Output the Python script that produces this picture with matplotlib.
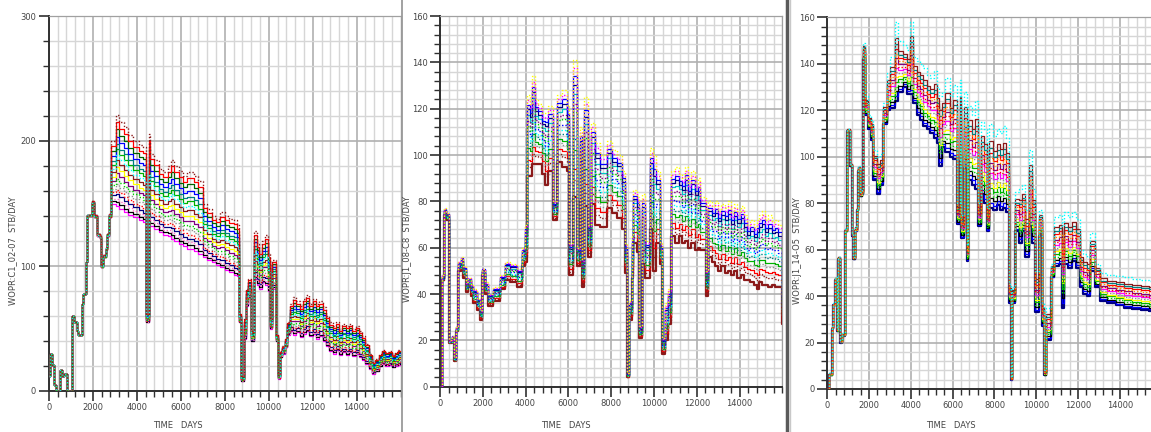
import numpy as np
import matplotlib
matplotlib.use("Agg")
import matplotlib.pyplot as plt
from matplotlib.ticker import MultipleLocator
from matplotlib.lines import Line2D

# Panel 1: WOPR:C1_02-07 - step times, lower and upper envelope of the ensemble
p1_days = [0, 60, 140, 240, 330, 510, 620, 700, 820, 1045, 1150, 1270, 1350, 1500, 1576, 1700,
           1760, 1955, 2076, 2182, 2333, 2379, 2485, 2606, 2667, 2758, 2833, 3045, 3200, 3400,
           3600, 3850, 4100, 4300, 4440, 4540, 4620, 4800, 5000, 5200, 5400, 5550, 5700, 5900,
           6100, 6300, 6600, 6800, 7000, 7200, 7400, 7600, 7800, 8000, 8200, 8400, 8550, 8650,
           8760, 8880, 8970, 9080, 9200, 9310, 9450, 9580, 9700, 9830, 9950, 10050, 10150, 10330,
           10440, 10500, 10600, 10750, 10850, 10950, 11100, 11250, 11400, 11550, 11700, 11850,
           12000, 12150, 12300, 12450, 12600, 12750, 12900, 13050, 13200, 13350, 13500, 13650,
           13800, 13950, 14100, 14250, 14400, 14550, 14700, 14850, 15000, 15150, 15300, 15450,
           15600, 15750, 15900, 16100]
p1_low = [12, 30, 21, 5, 0, 17, 12, 14, 0, 60, 55, 48, 45, 70, 78, 103,
          140, 150, 139, 124, 122, 99, 107, 113, 124, 139, 150, 148, 146, 143,
          141, 139, 137, 135, 55, 133, 132, 130, 127, 125, 124, 122, 120, 118,
          116, 114, 112, 110, 107, 105, 103, 101, 99, 97, 95, 93, 92, 55,
          8, 42, 68, 75, 40, 90, 85, 82, 87, 85, 80, 50, 82, 40,
          10, 27, 30, 35, 45, 48, 45, 47, 43, 46, 48, 44,
          46, 42, 44, 40, 36, 32, 30, 33, 29, 31, 29, 31,
          28, 30, 27, 25, 22, 18, 14, 16, 20, 22, 20, 21,
          19, 20, 21, 21]
p1_high = [12, 30, 21, 5, 0, 17, 12, 14, 0, 60, 55, 48, 45, 70, 78, 103,
           141, 152, 141, 126, 124, 101, 109, 115, 126, 142, 200, 221, 215, 211,
           205, 200, 197, 195, 62, 206, 190, 185, 178, 175, 180, 185, 180, 176,
           172, 175, 172, 168, 150, 146, 140, 138, 143, 140, 138, 137, 133, 62,
           12, 58, 82, 90, 48, 128, 118, 112, 120, 125, 110, 58, 105, 45,
           13, 32, 36, 42, 55, 70, 75, 72, 68, 74, 77, 70,
           74, 70, 72, 67, 60, 55, 52, 55, 50, 54, 52, 54,
           50, 52, 48, 44, 38, 30, 23, 26, 30, 33, 31, 32,
           29, 31, 33, 33]

# Panel 2: WOPR:J1_08-C8
p2_days = [0, 80, 210, 300, 405, 545, 650, 750, 860, 970, 1090, 1215, 1320, 1430, 1560, 1710,
           1870, 1980, 2100, 2260, 2490, 2800, 3040, 3270, 3580, 3820, 3970, 4080, 4200, 4300,
           4450, 4600, 4750, 4910, 5060, 5300, 5450, 5690, 5920, 6040, 6200, 6390, 6540, 6620,
           6730, 6930, 7040, 7240, 7480, 7790, 8020, 8250, 8490, 8650, 8720, 8850, 8960, 9030,
           9190, 9320, 9430, 9580, 9810, 9970, 10090, 10280, 10360, 10520, 10670, 10780, 10980,
           11150, 11300, 11450, 11600, 11750, 11900, 12050, 12150, 12420, 12540, 12700, 12850,
           13000, 13150, 13300, 13450, 13600, 13750, 13900, 14050, 14200, 14350, 14500, 14650,
           14800, 14900, 15050, 15200, 15350, 15500, 15650, 15800, 15960, 16100]
p2_low = [0, 46, 74, 72, 19, 20, 11, 24, 50, 51, 47, 41, 43, 39, 36, 33,
          29, 48, 40, 35, 37, 42, 46, 45, 43, 52, 54, 91, 91, 96,
          96, 96, 92, 87, 93, 72, 97, 95, 93, 48, 82, 52, 80, 43,
          78, 56, 79, 70, 69, 77, 75, 73, 68, 49, 4, 29, 47, 62,
          58, 21, 53, 47, 68, 50, 62, 53, 14, 20, 27, 65, 62,
          65, 62, 63, 60, 62, 59, 60, 59, 39, 56, 54, 52,
          50, 52, 49, 50, 48, 50, 47, 48, 46, 46, 45, 44,
          42, 45, 44, 44, 43, 44, 43, 43, 27, 27]
p2_high = [0, 48, 77, 75, 20, 22, 13, 26, 54, 56, 52, 45, 47, 44, 42, 38,
           33, 51, 45, 40, 43, 48, 54, 53, 51, 60, 70, 126, 122, 134,
           124, 122, 118, 118, 121, 80, 126, 128, 121, 62, 141, 60, 112, 55,
           125, 70, 114, 105, 100, 106, 102, 100, 93, 62, 6, 37, 65, 85,
           82, 26, 83, 63, 103, 100, 93, 62, 21, 36, 42, 93, 95,
           92, 90, 95, 88, 93, 88, 90, 82, 50, 80, 78, 80,
           76, 79, 77, 80, 75, 79, 76, 78, 74, 70, 72, 69,
           72, 74, 76, 72, 74, 71, 72, 70, 40, 40]

# Panel 3: WOPR:J1_14-O5
p3_days = [0, 100, 210, 290, 370, 450, 530, 610, 690, 850, 960, 1080, 1160, 1240, 1320, 1400,
           1480, 1560, 1640, 1700, 1800, 1960, 2070, 2200, 2360, 2520, 2680, 2840, 3000, 3240,
           3400, 3600, 3800, 3960, 4110, 4300, 4450, 4600, 4760, 4910, 5100, 5250, 5360, 5470,
           5650, 5850, 6000, 6190, 6350, 6400, 6520, 6670, 6750, 6900, 7050, 7220, 7350, 7500,
           7620, 7750, 7950, 8100, 8250, 8400, 8550, 8670, 8780, 8860, 8990, 9150, 9310, 9470,
           9630, 9790, 9950, 10110, 10270, 10380, 10480, 10700, 10860, 11070, 11230, 11310,
           11500, 11700, 11900, 12100, 12250, 12420, 12580, 12820, 13030, 13400, 13800, 14200,
           14600, 15000, 15400, 15800, 16100]
p3_low = [0, 6, 26, 36, 47, 25, 56, 20, 23, 68, 111, 96, 66, 56, 68, 77,
          94, 83, 84, 142, 118, 112, 107, 90, 84, 88, 114, 120, 121, 124,
          128, 130, 127, 127, 123, 118, 116, 113, 112, 110, 108, 106, 96, 104,
          102, 100, 99, 71, 98, 65, 95, 55, 90, 88, 86, 70, 84, 80,
          68, 78, 77, 79, 77, 78, 76, 37, 4, 37, 68, 63, 68, 57,
          70, 63, 33, 66, 27, 6, 21, 48, 53, 54, 35, 54,
          52, 55, 52, 44, 41, 40, 51, 44, 38, 37, 36, 35,
          34.5, 34, 33.5, 33, 33]
p3_high = [0, 7, 27, 37, 48, 26, 57, 21, 24, 69, 112, 97, 67, 57, 70, 78,
           96, 85, 86, 149, 126, 118, 116, 103, 100, 101, 123, 136, 143, 158,
           150, 148, 146, 158, 143, 141, 140, 138, 135, 134, 137, 130, 126, 128,
           134, 126, 131, 80, 133, 75, 128, 62, 122, 118, 124, 80, 115, 112,
           78, 114, 109, 112, 110, 113, 108, 45, 5, 44, 85, 86, 88, 77,
           103, 86, 51, 77, 37, 8, 35, 54, 74, 75, 70, 76,
           74, 76, 73, 60, 58, 57, 67, 54, 50, 49, 48.5, 48,
           47.5, 47, 46.5, 46, 46]

# position of each realisation inside the envelope (0 = lowest, 1 = highest)
p1_fracs = [0.0, 0.04, 0.08, 0.13, 0.18, 0.24, 0.30, 0.36, 0.43, 0.50, 0.56, 0.62, 0.68, 0.76, 0.84, 0.92, 1.0]
p2_fracs = [0.0, 0.12, 0.20, 0.28, 0.34, 0.42, 0.48, 0.55, 0.62, 0.68, 0.75, 0.82, 0.88, 0.94, 1.0]
p3_fracs = [0.0, 0.06, 0.12, 0.18, 0.24, 0.30, 0.36, 0.42, 0.48, 0.54, 0.60, 0.66, 0.72, 0.80, 1.0]

p1_colors = ['#ff00ff', '#000000', '#ff6ec7', '#000080', '#ff0000', '#909090', '#00d000', '#800080',
             '#ffff00', '#8b1a1a', '#00ffff', '#00b000', '#008080', '#0000ff', '#006400', '#ff0000', '#8b1a1a']
p1_styles = ['-', '-', ':', '-', ':', ':', ':', '-', '-', '-', ':', '-', '-', '-', '-', '-', ':']
p2_colors = ['#8b1a1a', '#8b1a1a', '#ff0000', '#909090', '#00b000', '#008080', '#00ffff', '#0000ff',
             '#00d000', '#800080', '#00c8c8', '#000080', '#0000ff', '#ff00ff', '#ffff00']
p2_styles = ['-', ':', '-', ':', '-', ':', ':', ':', ':', ':', '-', '-', '-', ':', ':']
p3_colors = ['#000080', '#0000ff', '#000000', '#00d000', '#00b000', '#ffff00', '#909090', '#ff00ff',
             '#ff0000', '#800080', '#ff8c00', '#ff0000', '#008080', '#8b1a1a', '#00ffff']
p3_styles = ['-', '-', '-', ':', '-', '-', ':', '-', ':', '-', ':', '-', '-', '-', ':']

TEXT_COLOR = '#454545'
FONT_SIZE = 6.0


def draw_panel(ax, days, low, high, fracs, colors, styles, ymax, ymajor, yminor, thick):
    days = np.array(days, dtype=float)
    low = np.array(low, dtype=float)
    high = np.array(high, dtype=float)
    # solid lines first, dotted ones on top of them
    order = [i for i in range(len(fracs)) if styles[i] == '-'] + \
            [i for i in range(len(fracs)) if styles[i] != '-']
    for k, i in enumerate(order):
        values = low + fracs[i] * (high - low)
        if styles[i] == '-':
            ls = '-'
            lw = 1.6 if i == thick else 0.9
        else:
            ls = ((k % 3) * 0.8, (1.0, 1.4))
            lw = 1.0
        ax.step(days, values, where='post', color=colors[i], lw=lw, linestyle=ls, zorder=3)

    ax.set_xlim(0, 16000)
    ax.set_ylim(0, ymax)
    # labels only up to 14000, the last one is off the screenshot
    ax.set_xticks(np.arange(0, 16000, 2000))
    ax.xaxis.set_minor_locator(MultipleLocator(400))
    ax.yaxis.set_major_locator(MultipleLocator(ymajor))
    ax.yaxis.set_minor_locator(MultipleLocator(yminor))
    ax.grid(which='major', color='#b0b0b0', lw=1.2)
    ax.grid(which='minor', color='#d6d6d6', lw=1.0)
    ax.set_axisbelow(True)
    ax.tick_params(which='major', direction='out', length=7, width=1.2, color='#303030',
                   labelsize=FONT_SIZE, labelcolor=TEXT_COLOR, pad=2)
    ax.tick_params(which='minor', direction='out', length=4, width=1.0, color='#303030')
    for side in ['left', 'bottom']:
        ax.spines[side].set_color('#303030')
        ax.spines[side].set_linewidth(1.4)
    for side in ['top', 'right']:
        ax.spines[side].set_color('#a0a0a0')
        ax.spines[side].set_linewidth(0.9)


fig = plt.figure(figsize=(11.51, 4.32), dpi=100)
W, H = 1151.0, 432.0

ax1 = fig.add_axes([48.7 / W, 1 - 391 / H, 352 / W, 375 / H])
draw_panel(ax1, p1_days, p1_low, p1_high, p1_fracs, p1_colors, p1_styles, 300, 100, 20, -1)

ax2 = fig.add_axes([440 / W, 1 - 386.7 / H, 342.4 / W, 370.7 / H])
draw_panel(ax2, p2_days, p2_low, p2_high, p2_fracs, p2_colors, p2_styles, 160, 20, 4, 0)

ax3 = fig.add_axes([827.3 / W, 1 - 389 / H, 334.4 / W, 371.7 / H])
draw_panel(ax3, p3_days, p3_low, p3_high, p3_fracs, p3_colors, p3_styles, 160, 20, 4, 0)

# axis titles placed like in the original screenshots
ylabels = ['WOPR:C1_02-07  STB/DAY', 'WOPR:J1_08-C8  STB/DAY', 'WOPR:J1_14-O5  STB/DAY']
ylabel_x = [13, 407, 797]
ylabel_y = [251, 249, 251]
for lab, x, y in zip(ylabels, ylabel_x, ylabel_y):
    fig.text(x / W, 1 - y / H, lab, rotation=90, ha='center', va='center',
             fontsize=FONT_SIZE, color=TEXT_COLOR)

xlabel_x = [178, 566, 951]
xlabel_y = [426, 425, 426]
for x, y in zip(xlabel_x, xlabel_y):
    fig.text(x / W, 1 - y / H, 'TIME   DAYS', ha='center', va='center',
             fontsize=FONT_SIZE, color=TEXT_COLOR)

# separators between the three screenshots
fig.add_artist(Line2D([401.5 / W, 401.5 / W], [0, 1], color='#9a9a9a', lw=1.3))
fig.add_artist(Line2D([787 / W, 787 / W], [0, 1], color='#5a5a5a', lw=2.5))
fig.add_artist(Line2D([790 / W, 790 / W], [0, 1], color='#c8c8c8', lw=1.0))

plt.savefig('out.png', dpi=100)
